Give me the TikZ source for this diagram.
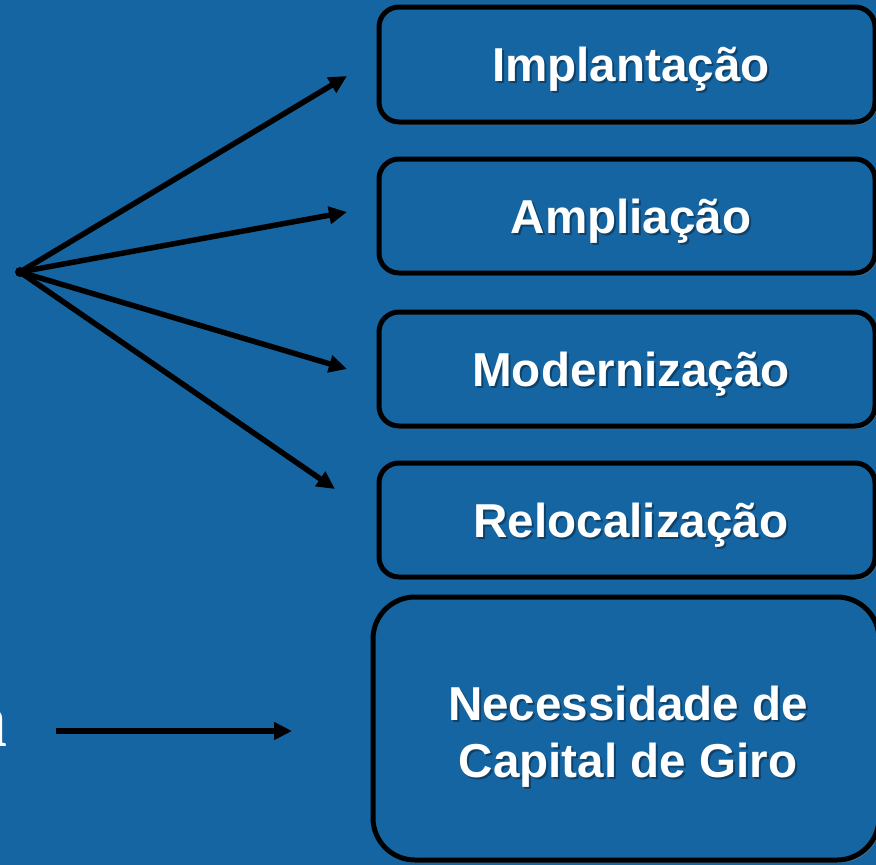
\documentclass[tikz,border=0pt]{standalone}
\usepackage{fontspec}
\setmainfont{Liberation Sans}
\newfontfamily\seriffont{Liberation Serif}
\usetikzlibrary{arrows.meta,shadows}
\definecolor{bg}{RGB}{21,101,162}
\newcommand{\boxlabel}[5]{%
  \node[lbl, text=black, opacity=0.35, anchor=base] (#1-s) at ([xshift=#3+2pt,yshift=#4-2pt]#2.center) {#5};
  \node[lbl, anchor=base] (#1) at ([xshift=#3,yshift=#4]#2.center) {#5};}
\begin{document}
\begin{tikzpicture}[x=1pt,y=-1pt,
  box/.style={draw=black, line width=5pt, fill=bg, rounded corners=20pt, inner sep=0pt,
    drop shadow={shadow xshift=2pt, shadow yshift=-3pt, opacity=0.35}},
  lbl/.style={text=white, inner sep=0pt, align=center,
    font=\fontsize{47.6}{57}\selectfont\bfseries},
  arr/.style={draw=black, line width=5.5pt, -{Triangle[length=18pt,width=17pt]}}]
\fill[bg] (0,0) rectangle (876,865);
\useasboundingbox (0,0) rectangle (876,865);

% boxes
\node[box, minimum width=496pt, minimum height=115pt] (b1) at (627,64.5) {};
\node[box, minimum width=496pt, minimum height=114pt] (b2) at (627,216) {};
\node[box, minimum width=496pt, minimum height=114pt] (b3) at (627,369) {};
\node[box, minimum width=496pt, minimum height=114pt] (b4) at (627,520) {};
\node[box, rounded corners=42pt, minimum width=506pt, minimum height=263pt] (b5) at (626,728.5) {};

% labels
\boxlabel{t1}{b1}{4pt}{-17pt}{Implantação}
\boxlabel{t2}{b2}{4pt}{-17pt}{Ampliação}
\boxlabel{t3}{b3}{4pt}{-17pt}{Modernização}
\boxlabel{t4}{b4}{4pt}{-17pt}{Relocalização}
\boxlabel{t5a}{b5}{2pt}{8pt}{Necessidade de}
\boxlabel{t5b}{b5}{2pt}{-49pt}{Capital de Giro}

% cut-off text on the left
\node[font=\seriffont\bfseries\fontsize{80}{80}\selectfont, text=white, anchor=base east, inner sep=0pt] (a) at (8,746) {a};

% fan of arrows
\coordinate (o) at (20,272);
\coordinate (e1) at (347,76);
\coordinate (e2) at (347,212);
\coordinate (e3) at (347,369);
\coordinate (e4) at (335,489);
\draw[arr] (o) -- (e1);
\draw[arr] (o) -- (e2);
\draw[arr] (o) -- (e3);
\draw[arr] (o) -- (e4);
\fill[black] (o) circle (5pt);

% bottom arrow
\coordinate (s6) at (56,731);
\coordinate (e6) at (292,731);
\draw[arr] (s6) -- (e6);
\end{tikzpicture}
\end{document}
